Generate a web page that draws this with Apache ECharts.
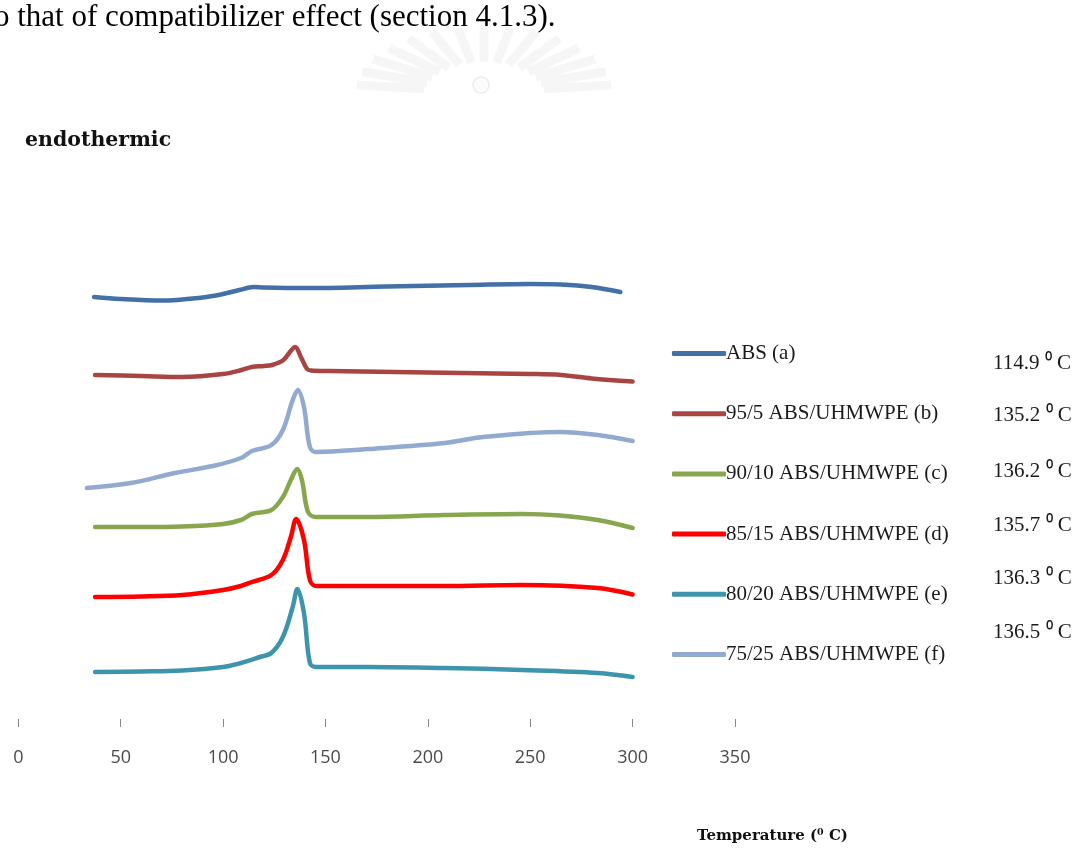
<!DOCTYPE html>
<html>
<head>
<meta charset="utf-8">
<title>DSC thermograms of ABS/UHMWPE blends</title>
<script src="https://cdn.jsdelivr.net/npm/echarts@6/dist/echarts.min.js"></script>
<style>
  html, body { margin: 0; padding: 0; background: #ffffff; }
  #chart { width: 1084px; height: 849px; }
</style>
</head>
<body>
<div id="chart"></div>
<script>
// Series names (legend order)
const seriesNames = [
  'ABS (a)',
  '95/5 ABS/UHMWPE (b)',
  '90/10 ABS/UHMWPE (c)',
  '85/15 ABS/UHMWPE (d)',
  '80/20 ABS/UHMWPE (e)',
  '75/25 ABS/UHMWPE (f)'
];

// Transition temperatures (Tg for ABS, Tm for the blends), °C
const transitionTemps = [114.9, 135.2, 136.2, 135.7, 136.3, 136.5];

// X axis tick labels
const tempTicks = [0, 50, 100, 150, 200, 250, 300, 350];

// Heat-flow traces, [temperature °C, shifted heat flow (a.u.)]
const absA = [
  [37, 42.2], [50, 42.0], [70, 41.85], [90, 42.15], [100, 42.5], [108, 42.9],
  [114.9, 43.2], [120, 43.15], [140, 43.1], [180, 43.25], [220, 43.4],
  [250, 43.5], [265, 43.45], [280, 43.2], [294, 42.7]
];
const blendB = [
  [37.5, 34.4], [60, 34.3], [80, 34.2], [100, 34.5], [109, 34.9], [114, 35.2],
  [120, 35.3], [124, 35.4], [129.5, 35.9], [133, 36.8], [135.2, 37.2],
  [138, 36.2], [141, 35.0], [143, 34.85], [152, 34.8], [200, 34.65],
  [250, 34.5], [265, 34.4], [280, 34.05], [300, 33.75]
];
const blendC = [
  [37.5, 19.2], [60, 19.2], [80, 19.25], [100, 19.5], [108.7, 19.9], [114.1, 20.5],
  [123.6, 20.9], [129.2, 22.2], [133.1, 23.9], [136.2, 25.0], [138.5, 23.9],
  [141.5, 20.7], [145.4, 20.2], [170.7, 20.2], [208.3, 20.4], [246, 20.5],
  [264.5, 20.35], [283, 19.9], [300, 19.1]
];
const blendD = [
  [37.5, 12.2], [60, 12.25], [80, 12.4], [100, 12.9], [108.7, 13.3], [114.1, 13.7],
  [123.6, 14.4], [129.2, 15.9], [133.1, 18.2], [135.7, 20.0], [139.5, 17.9],
  [142.4, 13.9], [145.4, 13.3], [170.7, 13.3], [208, 13.3], [246, 13.4],
  [283, 13.1], [300, 12.45]
];
const blendE = [
  [37.5, 4.7], [60, 4.75], [80, 4.85], [100, 5.2], [108.7, 5.6], [118, 6.2],
  [123.6, 6.6], [129.2, 8.2], [134, 11.2], [136.3, 13.0], [139.5, 10.6],
  [142.4, 5.6], [145.4, 5.2], [170.7, 5.2], [208, 5.1], [246, 4.9],
  [283, 4.6], [300, 4.2]
];
const blendF = [
  [33.5, 23.1], [55, 23.6], [76.5, 24.6], [95, 25.3], [108.7, 26.1], [114.1, 26.8],
  [123.6, 27.4], [129.2, 28.9], [134, 31.9], [136.5, 32.9], [139.5, 31.2],
  [142.4, 27.2], [145.4, 26.7], [170.7, 27.0], [208.3, 27.6], [226.9, 28.2],
  [264.5, 28.7], [283, 28.4], [300, 27.8]
];

const seriesData = [absA, blendB, blendC, blendD, blendE, blendF];
const seriesColors = ['#4470A8', '#A84542', '#87A64D', '#FF0000', '#3E94AC', '#92AACF'];

const chart = echarts.init(document.getElementById('chart'), null, { renderer: 'canvas' });

// Faint sunburst emblem behind the header
const emblem = [];
const cx = 484, cy = 92;
const rayAngles = [6, 18, 30, 42, 54, 66, 78, 90, 102, 114, 126, 138, 150, 162, 174];
rayAngles.forEach(function (deg) {
  const a = deg * Math.PI / 180;
  emblem.push({
    type: 'line',
    silent: true,
    shape: {
      x1: cx + Math.cos(a) * 60, y1: cy - Math.sin(a) * 30,
      x2: cx + Math.cos(a) * 128, y2: cy - Math.sin(a) * 66
    },
    style: { stroke: '#f6f6f6', lineWidth: 9, lineCap: 'butt' }
  });
});
emblem.push({
  type: 'circle', silent: true,
  shape: { cx: 481, cy: 85, r: 8 },
  style: { fill: '#fcfcfc', stroke: '#ececec', lineWidth: 1.5 }
});

// Transition temperature labels at the right
const tempLabelY = [365, 417, 473, 527, 580, 634];
const tempLabels = transitionTemps.map(function (t, i) {
  return {
    type: 'text',
    left: 993,
    top: tempLabelY[i] - 12,
    style: {
      text: t.toFixed(1) + ' \u2070 C',
      font: '21px "Liberation Serif", serif',
      fill: '#1a1a1a'
    }
  };
});

const option = {
  animation: false,
  backgroundColor: '#ffffff',
  grid: { left: 18.3, right: 349, top: 179, bottom: 130, containLabel: false },
  xAxis: {
    type: 'value',
    min: tempTicks[0],
    max: tempTicks[tempTicks.length - 1],
    interval: 50,
    axisLine: { show: false },
    axisTick: { show: true, length: 8, lineStyle: { color: '#8a8a8a', width: 1 } },
    splitLine: { show: false },
    axisLabel: {
      margin: 30,
      color: '#4a4a4a',
      fontSize: 18,
      fontFamily: '"Open Sans", sans-serif',
      formatter: function (v) { return String(v); }
    }
  },
  yAxis: {
    type: 'value',
    min: 0,
    max: 54,
    show: false
  },
  legend: {
    orient: 'vertical',
    left: 672,
    top: 343,
    padding: 0,
    itemWidth: 54,
    itemHeight: 5,
    itemGap: 39.2,
    icon: 'roundRect',
    data: seriesNames,
    textStyle: {
      fontFamily: '"Liberation Serif", serif',
      fontSize: 21,
      lineHeight: 20,
      color: '#1a1a1a',
      padding: [0, 0, 0, -5]
    }
  },
  graphic: emblem.concat([
    {
      type: 'text',
      left: -6,
      top: 2,
      style: {
        text: 'o that of compatibilizer effect (section 4.1.3).',
        font: '31px "Liberation Serif", serif',
        fill: '#000000'
      }
    },
    {
      type: 'text',
      left: 25,
      top: 130,
      style: {
        text: 'endothermic',
        font: 'bold 20.5px "DejaVu Serif", serif',
        fill: '#111111'
      }
    },
    {
      type: 'text',
      left: 697,
      top: 829,
      style: {
        text: 'Temperature (\u2070 C)',
        font: 'bold 15px "DejaVu Serif", serif',
        fill: '#111111'
      }
    }
  ]).concat(tempLabels),
  series: seriesNames.map(function (name, i) {
    return {
      name: name,
      type: 'line',
      data: seriesData[i],
      showSymbol: false,
      symbol: 'none',
      smooth: 0.35,
      color: seriesColors[i],
      lineStyle: { width: 4.5, color: seriesColors[i], cap: 'round', join: 'round' },
      emphasis: { disabled: true }
    };
  })
};

chart.setOption(option);
</script>
</body>
</html>
